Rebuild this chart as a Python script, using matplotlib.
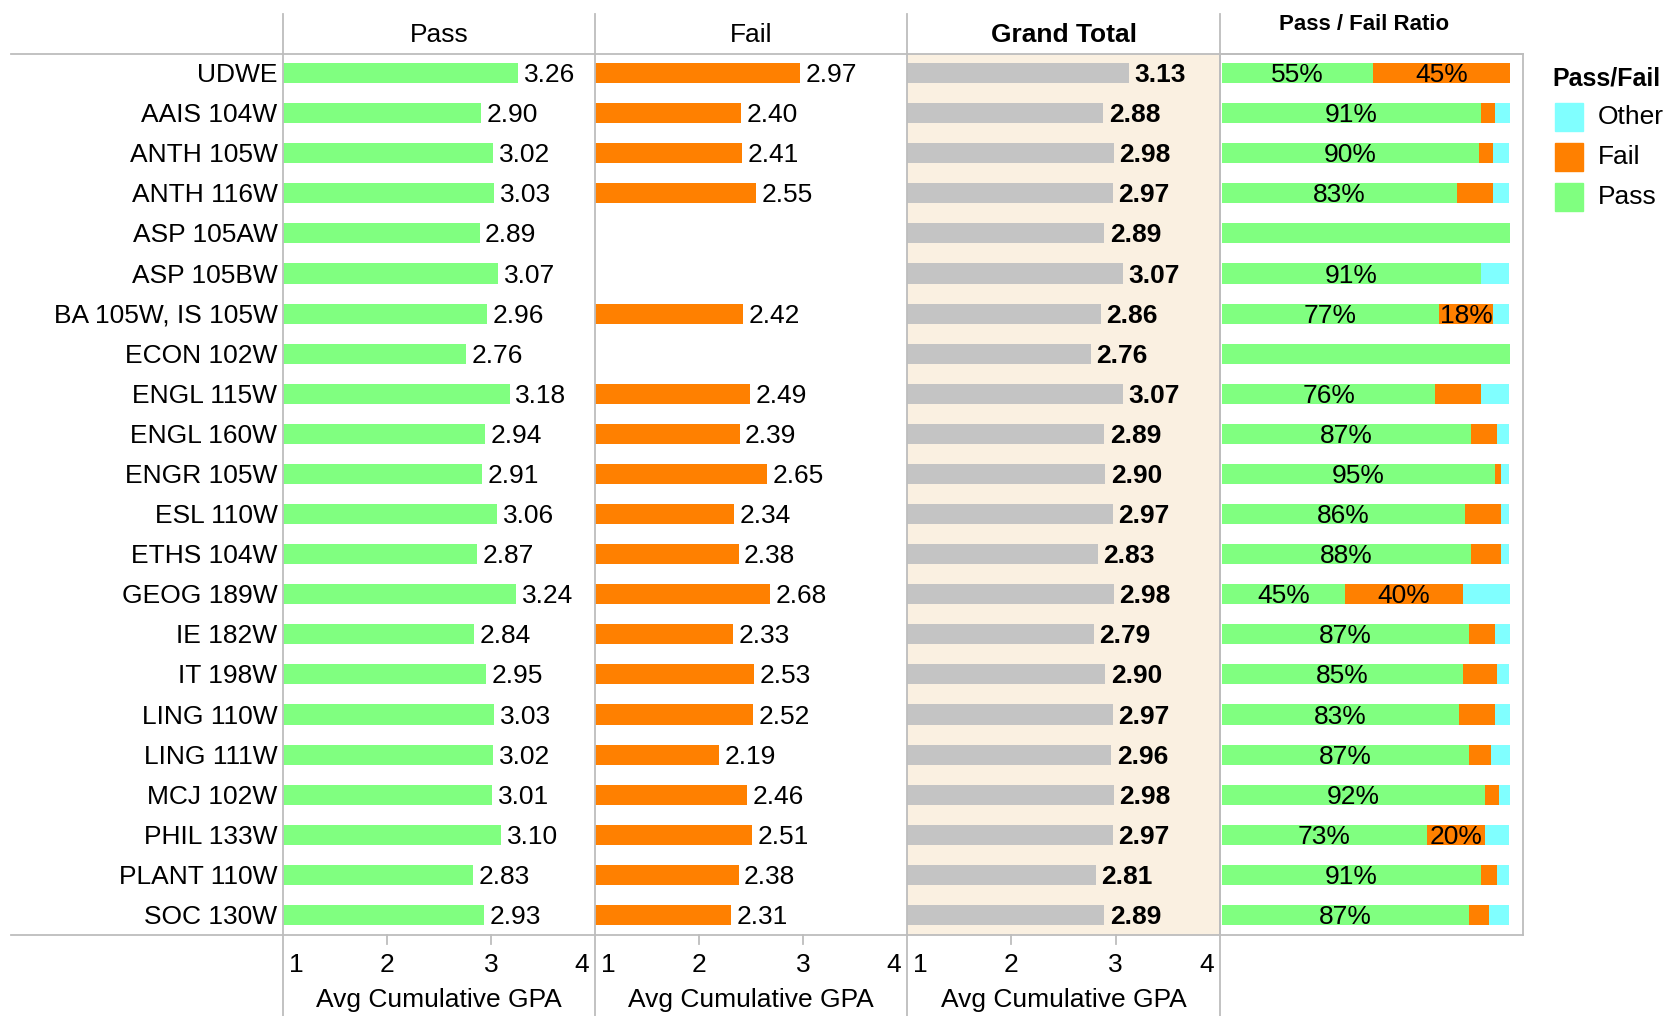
import numpy as np
import matplotlib
matplotlib.use("Agg")
import matplotlib.pyplot as plt
from matplotlib.lines import Line2D
from matplotlib.patches import Rectangle

W, H = 1667, 1016

courses = ["UDWE", "AAIS 104W", "ANTH 105W", "ANTH 116W", "ASP 105AW", "ASP 105BW",
           "BA 105W, IS 105W", "ECON 102W", "ENGL 115W", "ENGL 160W", "ENGR 105W",
           "ESL 110W", "ETHS 104W", "GEOG 189W", "IE 182W", "IT 198W", "LING 110W",
           "LING 111W", "MCJ 102W", "PHIL 133W", "PLANT 110W", "SOC 130W"]

pass_gpa = [3.26, 2.90, 3.02, 3.03, 2.89, 3.07, 2.96, 2.76, 3.18, 2.94, 2.91,
            3.06, 2.87, 3.24, 2.84, 2.95, 3.03, 3.02, 3.01, 3.10, 2.83, 2.93]
fail_gpa = [2.97, 2.40, 2.41, 2.55, np.nan, np.nan, 2.42, np.nan, 2.49, 2.39, 2.65,
            2.34, 2.38, 2.68, 2.33, 2.53, 2.52, 2.19, 2.46, 2.51, 2.38, 2.31]
total_gpa = [3.13, 2.88, 2.98, 2.97, 2.89, 3.07, 2.86, 2.76, 3.07, 2.89, 2.90,
             2.97, 2.83, 2.98, 2.79, 2.90, 2.97, 2.96, 2.98, 2.97, 2.81, 2.89]

# share of students (%)
pass_pct = [52.4, 89.9, 89.2, 81.6, 100, 89.9, 75.3, 100, 74.0, 86.5, 94.8,
            84.4, 86.5, 42.7, 85.8, 83.7, 82.3, 85.8, 91.3, 71.2, 89.9, 85.8]
fail_pct = [47.6, 4.9, 4.9, 12.5, 0, 0, 18.8, 0, 16.0, 9.0, 2.1,
            12.5, 10.4, 41.0, 9.0, 11.8, 12.5, 7.6, 4.9, 20.1, 5.6, 6.9]
other_pct = [0, 5.2, 5.6, 5.6, 0, 9.7, 5.6, 0, 9.7, 4.2, 2.8,
             2.8, 2.8, 16.3, 5.2, 4.2, 5.2, 6.6, 3.8, 8.3, 4.2, 6.9]
pass_lbl = ["55%", "91%", "90%", "83%", "", "91%", "77%", "", "76%", "87%", "95%",
            "86%", "88%", "45%", "87%", "85%", "83%", "87%", "92%", "73%", "91%", "87%"]
fail_lbl = ["45%", "", "", "", "", "", "18%", "", "", "", "",
            "", "", "40%", "", "", "", "", "", "20%", "", ""]

GREEN = "#80FF80"
ORANGE = "#FF8000"
GREY = "#C4C4C4"
CYAN = "#80FFFF"
LINE = "#BDBDBD"
BEIGE = "#FAF0E1"

plt.rcParams['font.family'] = ['Liberation Sans', 'DejaVu Sans']
FS = 19
DY = -1.5  # nudge labels down a touch (points)

fig = plt.figure(figsize=(W / 100, H / 100), dpi=100)


def box(x0, x1, y0, y1):
    return [x0 / W, 1 - y1 / H, (x1 - x0) / W, (y1 - y0) / H]


def fline(xs, ys, **kw):
    fig.add_artist(Line2D([x / W for x in xs], [1 - y / H for y in ys],
                          color=LINE, lw=1.3, **kw))


def ftext(x, y, s, **kw):
    fig.text(x / W, 1 - y / H, s, **kw)


TOP, BOT = 54, 935
n = len(courses)
y = np.arange(n)
ylim = (21.5, -0.475)

panels = [(283, 595, pass_gpa, GREEN, "Pass", "normal"),
          (595, 907, fail_gpa, ORANGE, "Fail", "normal"),
          (907, 1220, total_gpa, GREY, "Grand Total", "bold")]

for x0, x1, vals, col, title, wt in panels:
    ax = fig.add_axes(box(x0, x1, TOP, BOT))
    if title == "Grand Total":
        ax.set_facecolor(BEIGE)
    else:
        ax.patch.set_alpha(0)
    ax.barh(y, vals, left=0, height=0.5, color=col)
    ax.set_xlim(1, 4)
    ax.set_ylim(*ylim)
    ax.set_xticks([])
    ax.set_yticks([])
    for s in ax.spines.values():
        s.set_visible(False)
    for i, v in enumerate(vals):
        if not np.isnan(v):
            ax.annotate(f"{v:.2f}", (v, i), xytext=(4, DY), textcoords="offset points",
                        ha="left", va="center", fontsize=FS, fontweight=wt)
    ftext((x0 + x1) / 2, 35, title, ha="center", va="center", fontsize=FS, fontweight=wt)
    # axis ticks and labels
    for v in [1, 2, 3, 4]:
        px = x0 + (v - 1) / 3 * (x1 - x0)
        if v in (2, 3):
            fline([px, px], [BOT, BOT + 9])
            ftext(px, 965, str(v), ha="center", va="center", fontsize=FS)
        elif v == 1:
            ftext(px + 6, 965, "1", ha="left", va="center", fontsize=FS)
        else:
            ftext(px - 6, 965, "4", ha="right", va="center", fontsize=FS)
    ftext((x0 + x1) / 2, 1000, "Avg Cumulative GPA", ha="center", va="center", fontsize=FS)
    if title == "Pass":
        for i, c in enumerate(courses):
            ax.annotate(c, (0, i), xycoords=("axes fraction", "data"), xytext=(-4, DY),
                        textcoords="offset points", ha="right", va="center", fontsize=FS)

# pass / fail ratio panel
axr = fig.add_axes(box(1220, 1523, TOP, BOT))
pp = np.array(pass_pct)
fp = np.array(fail_pct)
op = np.array(other_pct)
axr.barh(y, pp, height=0.5, color=GREEN)
axr.barh(y, fp, left=pp, height=0.5, color=ORANGE)
axr.barh(y, op, left=pp + fp, height=0.5, color=CYAN)
axr.set_xlim(-0.7, 104.5)
axr.set_ylim(*ylim)
axr.set_xticks([])
axr.set_yticks([])
for s in axr.spines.values():
    s.set_color(LINE)
    s.set_linewidth(1.3)
for i in range(n):
    if pass_lbl[i]:
        axr.annotate(pass_lbl[i], (pp[i] / 2, i), xytext=(0, DY), textcoords="offset points",
                     ha="center", va="center", fontsize=FS)
    if fail_lbl[i]:
        axr.annotate(fail_lbl[i], (pp[i] + fp[i] / 2, i), xytext=(0, DY),
                     textcoords="offset points", ha="center", va="center", fontsize=FS)
ftext(1364, 24, "Pass / Fail Ratio", ha="center", va="center", fontsize=16,
      fontweight="bold")

# frame lines
for xv in [283, 595, 907, 1220]:
    fline([xv, xv], [14, 1016])
fline([11, 1523], [TOP, TOP])
fline([11, 1220], [BOT, BOT])

# legend
ftext(1552, 79, "Pass/Fail", ha="left", va="center", fontsize=18, fontweight="bold")
for k, (lab, col) in enumerate([("Other", CYAN), ("Fail", ORANGE), ("Pass", GREEN)]):
    yc = 117 + 40 * k
    fig.add_artist(Rectangle((1555 / W, 1 - (yc + 14) / H), 28 / W, 28 / H,
                             color=col, transform=fig.transFigure))
    ftext(1598, yc, lab, ha="left", va="center", fontsize=FS)

fig.savefig("out.png", dpi=100)
